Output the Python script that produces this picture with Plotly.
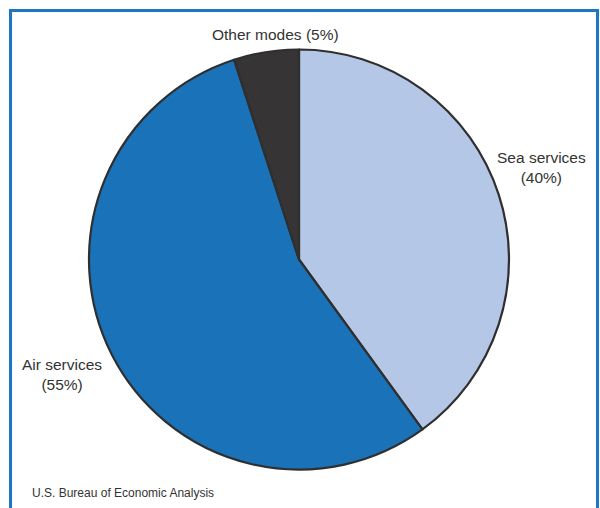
import plotly.graph_objects as go

labels = ["Sea services", "Air services", "Other modes"]
values = [40, 55, 5]
colors = ["#b5c7e6", "#1a72b8", "#363435"]
label_texts = ["Sea services<br>(40%)", "Air services<br>(55%)", "Other modes (5%)"]
source = "U.S. Bureau of Economic Analysis"

W, H = 600, 508
cx, cy, r = 299, 259.5, 210

fig = go.Figure(go.Pie(
    labels=labels, values=values, sort=False, direction="clockwise", rotation=0,
    marker=dict(colors=colors, line=dict(color="#2f2f2f", width=2.2)),
    textinfo="none", hoverinfo="label+percent", showlegend=False,
    domain=dict(x=[(cx - r) / W, (cx + r) / W], y=[1 - (cy + r) / H, 1 - (cy - r) / H]),
))

FAM = "Liberation Sans"
font = dict(family=FAM, size=15.5, color="#333333")
ann_pos = [(541, 167, "center"), (62, 374, "center"), (275, 35, "center")]
for (x, y, al), t in zip(ann_pos, label_texts):
    fig.add_annotation(x=x / W, y=1 - y / H, xref="paper", yref="paper", text=t,
                       showarrow=False, font=font, align=al, xanchor="center", yanchor="middle")

fig.add_annotation(x=30 / W, y=1 - 493 / H, xref="paper", yref="paper", text=source,
                   showarrow=False, xanchor="left", yanchor="middle",
                   font=dict(family=FAM, size=12, color="#333333"))

fig.add_shape(type="rect", xref="paper", yref="paper",
              x0=10.5 / W, x1=597.5 / W, y0=-0.05, y1=1 - 10.5 / H,
              line=dict(color="#1f77c4", width=3), fillcolor="rgba(0,0,0,0)")

fig.update_layout(width=W, height=H, margin=dict(l=0, r=0, t=0, b=0),
                  paper_bgcolor="white", plot_bgcolor="white",
                  font=dict(family=FAM))
fig.write_html("out.html")
